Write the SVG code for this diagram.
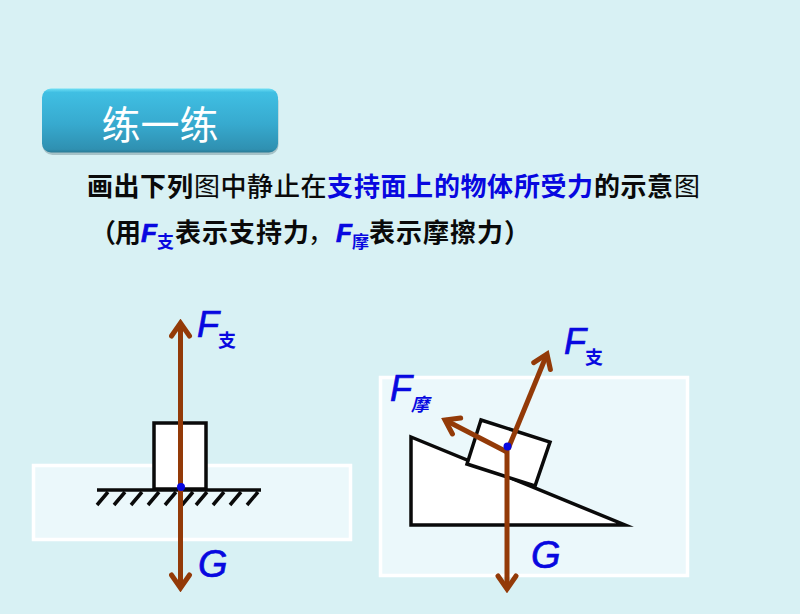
<svg xmlns="http://www.w3.org/2000/svg" width="800" height="614" viewBox="0 0 800 614">
<defs>
<linearGradient id="btn" x1="0" y1="0" x2="0" y2="1"><stop offset="0" stop-color="#6fe0f5"/><stop offset="0.06" stop-color="#40bfe3"/><stop offset="0.55" stop-color="#37aacf"/><stop offset="0.95" stop-color="#2f90b1"/><stop offset="1" stop-color="#2a7a94"/></linearGradient>
<marker id="ah" viewBox="-16 -12 20 24" markerWidth="20" markerHeight="24" refX="0" refY="0" orient="auto" markerUnits="userSpaceOnUse"><path d="M-13,-9 L0,0 L-13,9" fill="none" stroke="#933a08" stroke-width="5" stroke-linecap="round"/></marker>
</defs>
<style>
.cn{font-family:"Noto Sans CJK SC",sans-serif;font-size:26px}
.b{font-weight:700}.m{font-weight:500}.r{font-weight:400}
.blue{fill:#0808e0}.blk{fill:#0a0a0a}
.F{font-family:"Liberation Sans",sans-serif;font-style:italic;fill:#0808e0;stroke:#0808e0;stroke-width:.7}
.sub{font-family:"Noto Sans CJK SC",sans-serif;font-weight:700;fill:#0808e0}
.panel{fill:#ebf8fb;stroke:#fff;stroke-width:3.5}
.sh{fill:#fff;stroke:#0a0a0a;stroke-width:3.5;stroke-miterlimit:12}
.ln{fill:none;stroke:#0a0a0a;stroke-width:3.5}
.force{fill:none;stroke:#933a08;stroke-width:5;marker-end:url(#ah)}
</style>
<rect width="800" height="614" fill="#d8f1f4"/>
<g id="title">
<rect x="42.500" y="91" width="236" height="64" rx="10" fill="#7d9aa2" opacity="0.55"/>
<rect x="42" y="88.500" width="236" height="64" rx="9" fill="url(#btn)"/>
<text x="160" y="139" text-anchor="middle" font-family="'Noto Sans CJK SC',sans-serif" font-size="39" fill="#fff">练一练</text>
</g>
<g id="instruction">
<text y="196" class="cn blk"><tspan x="87" class="b">画</tspan><tspan x="113.500" class="b">出</tspan><tspan x="140" class="b">下</tspan><tspan x="167" class="b">列</tspan><tspan x="194" class="r">图</tspan><tspan x="220.500" class="m">中</tspan><tspan x="247" class="m">静</tspan><tspan x="274" class="m">止</tspan><tspan x="300.500" class="m">在</tspan></text>
<text y="196" class="cn b blue"><tspan x="327">支</tspan><tspan x="354">持</tspan><tspan x="380.500">面</tspan><tspan x="407">上</tspan><tspan x="434">的</tspan><tspan x="460.500">物</tspan><tspan x="487">体</tspan><tspan x="514">所</tspan><tspan x="540.500">受</tspan><tspan x="567">力</tspan></text>
<text y="196" class="cn blk"><tspan x="594" class="b">的</tspan><tspan x="620.500" class="b">示</tspan><tspan x="647" class="b">意</tspan><tspan x="674" class="r">图</tspan></text>
<text y="242" class="cn b blk"><tspan x="90">（</tspan><tspan x="115">用</tspan></text>
<text x="141" y="242" class="F" font-size="26" font-weight="700">F</text>
<text x="157" y="248" class="sub" font-size="17">支</text>
<text y="242" class="cn b blk"><tspan x="175">表</tspan><tspan x="202">示</tspan><tspan x="229">支</tspan><tspan x="256">持</tspan><tspan x="283">力</tspan><tspan x="308" class="r">，</tspan></text>
<text x="336" y="242" class="F" font-size="26" font-weight="700">F</text>
<text x="352" y="248" class="sub" font-size="17">摩</text>
<text y="242" class="cn b blk"><tspan x="369">表</tspan><tspan x="396">示</tspan><tspan x="423">摩</tspan><tspan x="450">擦</tspan><tspan x="477">力</tspan><tspan x="504">）</tspan></text>
</g>
<g id="left-panel"><rect class="panel" x="33.500" y="465.500" width="317" height="74"/></g>
<g id="left-block"><rect class="sh" x="154" y="423" width="52" height="66"/></g>
<g id="ground">
<path class="ln" d="M97,490H261"/>
<path class="ln" d="M108,492L97,505M125,492L114,505M142,492L131,505M159,492L148,505M176,492L165,505M193,492L182,505M207,492L196,505M224,492L213,505M241,492L230,505M258,492L247,505"/>
</g>
<g id="left-connectors">
<path class="force" d="M180.500,487V323"/>
<path class="force" d="M180.500,487V588"/>
<circle cx="181" cy="487" r="4" fill="#0808e0"/>
</g>
<g id="left-labels">
<text x="197" y="337" class="F" font-size="36">F</text>
<text x="218" y="347" class="sub" font-size="18">支</text>
<text x="198" y="577" class="F" font-size="38">G</text>
</g>
<g id="right-panel"><rect class="panel" x="380.500" y="377.500" width="307" height="198"/></g>
<g id="incline"><path class="sh" d="M411,437V525H625Z"/></g>
<g id="right-block"><path class="sh" d="M481,420L550,442L535,486L467,464Z"/></g>
<g id="right-connectors">
<path class="force" d="M507,449V589"/>
<path class="force" d="M508,449L547,354"/>
<path class="force" d="M507,452L445,420"/>
<circle cx="507.500" cy="446.500" r="4" fill="#0808e0"/>
</g>
<g id="right-labels">
<text x="564" y="354" class="F" font-size="36">F</text>
<text x="585" y="364" class="sub" font-size="18">支</text>
<text x="390" y="401" class="F" font-size="36">F</text>
<text x="411" y="411" class="sub" font-size="18" font-style="italic">摩</text>
<text x="531" y="568" class="F" font-size="38">G</text>
</g>
</svg>
